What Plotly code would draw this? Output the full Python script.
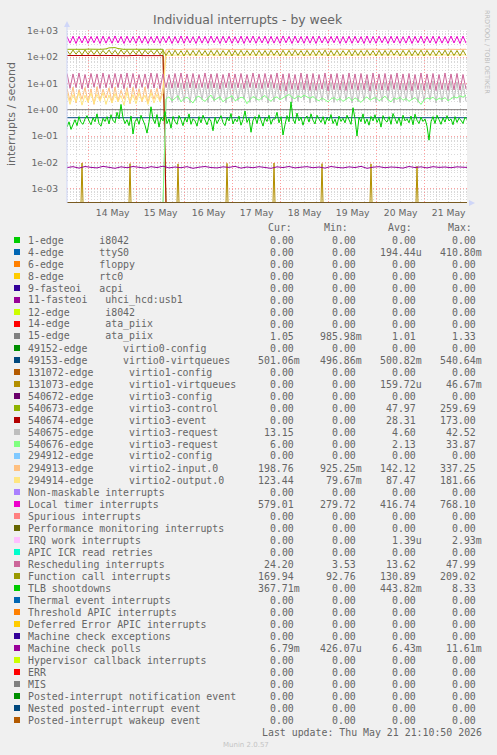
import pandas as pd
import plotly.graph_objects as go

# ---------------- text ----------------
TITLE = "Individual interrupts - by week"
Y_TITLE = "interrupts / second"
WATERMARK = "RRDTOOL / TOBI OETIKER"
FOOTER = "Munin 2.0.57"
LAST_UPDATE = "Last update: Thu May 21 21:10:50 2026"
HEADERS = ["Cur:", "Min:", "Avg:", "Max:"]

T_START = "2026-05-13 13:10"
T_END = "2026-05-21 21:10"

Y_TICK_VALS = [1e-3, 1e-2, 1e-1, 1e0, 1e1, 1e2, 1e3]
Y_TICK_TEXT = ["1e-03", "1e-02", "1e-01", "1e+00", "1e+01", "1e+02", "1e+03"]

LABELS = [
    "1-edge      i8042", "4-edge      ttyS0", "6-edge      floppy", "8-edge      rtc0",
    "9-fasteoi   acpi", "11-fasteoi   uhci_hcd:usb1", "12-edge      i8042",
    "14-edge      ata_piix", "15-edge      ata_piix",
    "49152-edge      virtio0-config", "49153-edge      virtio0-virtqueues",
    "131072-edge      virtio1-config", "131073-edge      virtio1-virtqueues",
    "540672-edge      virtio3-config", "540673-edge      virtio3-control",
    "540674-edge      virtio3-event", "540675-edge      virtio3-request",
    "540676-edge      virtio3-request", "294912-edge      virtio2-config",
    "294913-edge      virtio2-input.0", "294914-edge      virtio2-output.0",
    "Non-maskable interrupts", "Local timer interrupts", "Spurious interrupts",
    "Performance monitoring interrupts", "IRQ work interrupts", "APIC ICR read retries",
    "Rescheduling interrupts", "Function call interrupts", "TLB shootdowns",
    "Thermal event interrupts", "Threshold APIC interrupts", "Deferred Error APIC interrupts",
    "Machine check exceptions", "Machine check polls", "Hypervisor callback interrupts",
    "ERR", "MIS", "Posted-interrupt notification event", "Nested posted-interrupt event",
    "Posted-interrupt wakeup event",
]

PALETTE = ["#00CC00", "#0066B3", "#FF8000", "#FFCC00", "#330099", "#990099", "#CCFF00",
           "#FF0000", "#808080", "#008F00", "#00487D", "#B35A00", "#B38F00", "#6B006B",
           "#8FB300", "#B30000", "#BEBEBE", "#80FF80", "#80C9FF", "#FFC080", "#FFE680",
           "#AA80FF", "#EE00CC", "#FF8080", "#666600", "#FFBFFF", "#00FFCC", "#CC6699",
           "#999900"]

Z = "0.00"
CUR = [Z, Z, Z, Z, Z, Z, Z, Z, "1.05", Z, "501.06m", Z, Z, Z, Z, Z, "13.15", "6.00", Z,
       "198.76", "123.44", Z, "579.01", Z, Z, Z, Z, "24.20", "169.94", "367.71m",
       Z, Z, Z, Z, "6.79m", Z, Z, Z, Z, Z, Z]
MIN = [Z, Z, Z, Z, Z, Z, Z, Z, "985.98m", Z, "496.86m", Z, Z, Z, Z, Z, Z, Z, Z,
       "925.25m", "79.67m", Z, "279.72", Z, Z, Z, Z, "3.53", "92.76", Z,
       Z, Z, Z, Z, "426.07u", Z, Z, Z, Z, Z, Z]
AVG = [Z, "194.44u", Z, Z, Z, Z, Z, Z, "1.01", Z, "500.82m", Z, "159.72u", Z, "47.97",
       "28.31", "4.60", "2.13", Z, "142.12", "87.47", Z, "416.74", Z, Z, "1.39u", Z,
       "13.62", "130.89", "443.82m", Z, Z, Z, Z, "6.43m", Z, Z, Z, Z, Z, Z]
MAX = [Z, "410.80m", Z, Z, Z, Z, Z, Z, "1.33", Z, "540.64m", Z, "46.67m", Z, "259.69",
       "173.00", "42.52", "33.87", Z, "337.25", "181.66", Z, "768.10", Z, Z, "2.93m", Z,
       "47.99", "209.02", "8.33", Z, Z, Z, Z, "11.61m", Z, Z, Z, Z, Z, Z]

# ---------------- series (per-series sampling step, minutes) ----------------
# Local timer interrupts, 90 min step
LOC = [
    600, 340, 620, 330, 610, 345, 630, 335, 605, 350,
    615, 330, 625, 340, 600, 335, 635, 345, 610, 330,
    620, 350, 605, 335, 630, 340, 615, 330, 600, 345,
    625, 335, 610, 350, 620, 330, 605, 340, 635, 335,
    615, 345, 600, 330, 625, 340, 610, 335, 630, 350,
    605, 330, 620, 345, 615, 335, 600, 340, 625, 330,
    610, 350, 630, 335, 605, 345, 620, 330, 615, 340,
    600, 335, 635, 350, 610, 330, 625, 345, 605, 335,
    620, 340, 615, 330, 630, 345, 600, 335, 610, 350,
    625, 330, 605, 340, 620, 335, 615, 345, 600, 330,
    630, 340, 610, 335, 625, 350, 605, 330, 620, 345,
    615, 335, 600, 340, 635, 330, 610, 350, 625, 335,
    605, 345, 620, 330, 615, 340, 600, 335, 630, 345,
    610, 330, 625, 340,
]
# Function call interrupts, 90 min step
CAL = [
    180, 125, 185, 130, 178, 122, 186, 128, 182, 126,
    184, 124, 179, 130, 185, 127, 181, 123, 187, 129,
    183, 125, 180, 128, 186, 122, 182, 131, 179, 126,
    185, 124, 181,
    115, 178, 112, 182, 116, 176, 110, 181, 114, 179,
    113, 183, 117, 177, 111, 180, 115, 182, 112, 178,
    116, 184, 110, 179, 114, 181, 113, 177, 117, 183,
    111, 180, 115, 178, 112, 182, 116, 176, 110, 181,
    114, 179, 113, 183, 117, 177, 111, 180, 115, 182,
    112, 178, 116, 184, 110, 179, 114, 181, 113, 177,
    117, 183, 111, 180, 115, 178, 112, 182, 116, 176,
    110, 181, 114, 179, 113, 183, 117, 177, 111, 180,
    115, 182, 112, 178, 116, 184, 110, 179, 114, 181,
    113, 177, 117, 183, 111, 180, 115, 178, 112, 182,
    116,
]
# Rescheduling interrupts, 90 min step
RES = [
    24, 6.5, 23, 7, 25, 6.2, 22, 6.8, 24, 7.2,
    23, 6.4, 25, 6.9, 22, 6.6, 24, 7, 23, 6.3,
    25, 6.8, 24, 6.5, 22, 7.1, 23, 6.4, 25, 6.7,
    24, 6.2, 23, 7, 22, 6.6, 24, 6.9, 25, 6.3,
    23, 6.8, 24, 6.5, 22, 7, 25, 6.4, 23, 6.7,
    24, 6.1, 22, 6.9, 25, 6.5, 23, 6.8, 24, 6.3,
    22, 7, 25, 6.6, 23, 6.4, 24, 6.9, 22, 6.5,
    25, 5.7, 23, 5.2, 24, 6.0, 22, 5.6, 25, 5.8,
    23, 5.4, 24, 5.5, 22, 6.1, 25, 5.3, 23, 5.9,
    24, 5.6, 22, 5.4, 25, 6.0, 23, 5.5, 24, 5.8,
    22, 5.2, 25, 5.9, 23, 5.6, 24, 5.4, 22, 6.0,
    25, 5.7, 23, 5.5, 24, 5.3, 22, 5.8, 25, 5.6,
    23, 6.0, 24, 5.4, 22, 5.9, 25, 5.5, 23, 5.7,
    24, 5.6, 22, 6.1,
]
# virtio3-control / virtio3-event (stop on 15 May), 90 min step
IRQ540673 = [
    198, 196, 200, 197, 199, 195, 198, 201, 197, 196,
    199, 198, 200, 205, 225, 235, 230, 212, 200, 197,
    199, 198, 196, 200, 198, 197, 199, 201, 198, 196,
    199, 197, 198,
] + [0.0] * 101
IRQ540674 = [
    115, 114, 116, 113, 115, 117, 114, 115, 116, 113,
    115, 114, 116, 115, 113, 117, 115, 114, 116, 115,
    113, 114, 116, 115, 117, 114, 115, 113, 116, 114,
    115, 116, 114,
] + [0.0] * 101
# virtio3-request (start on 15 May), 90 min step
IRQ540675 = [0.0] * 33 + [
    2.1, 11, 1.9, 12, 2.3, 10.5, 2.0, 11.5, 1.8, 12.5,
    2.2, 10, 2.4, 11, 1.9, 12, 2.1, 10.5, 2.3, 11.5,
    1.8, 12, 2.0, 11, 2.2, 10, 2.5, 12.5, 1.9, 11,
    2.1, 10.5, 2.3, 12, 1.8, 11.5, 2.0, 10, 2.4, 11,
    2.2, 12, 1.9, 10.5, 2.1, 11.5, 2.3, 12.5, 1.8, 11,
    2.0, 10, 2.2, 12, 2.4, 11, 1.9, 10.5, 2.1, 11.5,
    2.3, 12, 1.8, 11, 2.0, 10.5, 2.2, 12.5, 2.4, 11,
    1.9, 10, 2.1, 11.5, 2.3, 12, 1.8, 11, 2.0, 10.5,
    2.2, 12, 2.4, 11.5, 1.9, 10, 2.1, 11, 2.3, 12.5,
    1.8, 11, 2.0, 10.5, 2.2, 12, 2.4, 11.5, 1.9, 10,
    2.1,
]
IRQ540676 = [0.0] * 33 + [
    2.6, 3.1, 2.2, 2.8, 3.4, 2.0, 2.7, 3.0, 2.4, 1.8,
    2.9, 3.3, 2.5, 2.1, 2.8, 3.6, 2.3, 2.7, 3.1, 2.0,
    2.6, 2.9, 3.4, 2.2, 2.5, 3.0, 2.8, 1.7, 2.4, 3.2,
    2.7, 2.3, 2.9, 3.5, 2.6, 2.1, 2.8, 3.1, 2.4, 2.9,
    3.3, 3.8, 3.0, 2.6, 3.4, 2.9, 3.6, 3.1, 2.7, 3.2,
    2.5, 2.2, 2.8, 2.4, 2.0, 2.6, 2.9, 2.3, 2.7, 2.1,
    2.5, 3.0, 2.2, 2.8, 2.4, 1.9, 2.6, 3.1, 2.3, 2.7,
    2.9, 2.2, 2.6, 3.3, 2.4, 2.0, 2.8, 2.5, 3.0, 2.3,
    2.7, 2.1, 2.5, 2.9, 2.2, 1.6, 2.4, 2.8, 2.6, 3.0,
    2.3, 2.7, 2.5, 2.9, 2.2, 2.6, 3.1, 2.8, 3.4, 3.0,
    3.6,
]
# virtio2-input.0 / virtio2-output.0, 90 min step
IRQ294913 = [
    6.5, 2.2, 7.2, 1.8, 5.8, 2.5, 7.0, 2.0, 6.2, 1.6,
    7.5, 2.3, 6.0, 2.8, 6.8, 1.9, 7.3, 2.1, 5.5, 2.6,
    6.9, 1.7, 7.1, 2.4, 6.3, 2.0, 7.4, 1.8, 5.9, 2.5,
    6.6, 2.2, 7.0,
    196, 198, 195, 200, 197, 194, 199, 201, 196, 198,
    195, 197, 200, 196, 193, 198, 202, 197, 195, 199,
    196, 194, 198, 200, 197, 195, 199, 196, 201, 198,
    194, 197, 199, 195, 198, 200, 196, 193, 197, 199,
    201, 196, 198, 195, 197, 200, 194, 198, 196, 199,
    197, 195, 201, 198, 196, 194, 199, 197, 200, 195,
    198, 196, 193, 197, 199, 201, 196, 198, 195, 200,
    197, 194, 198, 196, 199, 197, 201, 195, 198, 196,
    194, 199, 197, 200, 196, 198, 195, 197, 199, 196,
    201, 198, 194, 197, 200, 196, 198, 195, 199, 197,
    199,
]
IRQ294914 = [
    4.2, 1.6, 3.8, 2.0, 4.5, 1.5, 3.6, 1.9, 4.3, 1.7,
    3.9, 2.1, 4.4, 1.6, 3.7, 1.8, 4.1, 2.0, 3.5, 1.5,
    4.6, 1.9, 3.8, 1.7, 4.2, 2.2, 3.6, 1.6, 4.4, 1.8,
    3.9, 2.0, 4.3,
    120, 118, 122, 119, 121, 117, 123, 120, 118, 121,
    119, 122, 120, 117, 121, 123, 118, 120, 122, 119,
    121, 118, 120, 123, 117, 119, 122, 120, 118, 121,
    123, 119, 117, 121, 120, 122, 118, 119, 121, 120,
    117, 122, 120, 118, 123, 119, 121, 117, 120, 122,
    118, 121, 119, 123, 120, 117, 122, 118, 121, 119,
    120, 122, 117, 121, 119, 123, 118, 120, 122, 121,
    119, 117, 120, 122, 118, 121, 123, 119, 120, 118,
    122, 120, 117, 121, 119, 122, 118, 123, 120, 121,
    119, 118, 122, 120, 117, 121, 123, 119, 120, 122,
    123,
]
# TLB shootdowns, 60 min step
TLB = [
    0.22, 0.35, 0.18, 0.30, 0.42, 0.25, 0.55, 0.33, 0.28, 0.45,
    0.60, 0.38, 0.27, 0.50, 0.35, 0.70, 0.30, 0.24, 0.48, 0.36,
    0.55, 0.29, 0.65, 0.40, 0.32, 0.80, 0.45, 1.60, 0.50, 0.30,
    0.42, 0.25, 0.58, 0.12, 0.35, 0.48, 0.28, 0.62, 0.40, 0.26,
    0.13, 0.34, 1.30, 0.45, 0.30, 0.66, 0.22, 0.50, 0.38, 0.85,
    0.30, 0.45, 0.20, 0.56, 0.36, 0.28, 0.60, 0.42, 0.25, 0.50,
    0.34, 0.70, 0.28, 0.46, 0.38, 0.24, 0.55, 0.32, 0.62, 0.40,
    0.27, 0.48, 0.36, 0.16, 0.52, 0.30, 0.44, 0.60, 0.33, 0.25,
    0.50, 0.38, 0.72, 0.29, 0.45, 0.35, 0.58, 0.26, 0.42, 0.90,
    0.33, 0.48, 0.14, 0.40, 0.55, 0.30, 0.65, 0.37, 0.24, 0.50,
    0.36, 0.62, 0.28, 0.45, 0.44, 0.80, 0.32, 0.55, 0.11, 0.27,
    0.60, 0.35, 2.00, 0.45, 0.30, 0.75, 0.38, 0.52, 0.26, 0.48,
    0.58, 0.34, 0.70, 0.40, 0.29, 0.62, 0.45, 0.33, 0.55, 0.28,
    0.50, 0.38, 0.66, 0.30, 0.44, 0.25, 0.58, 0.36, 0.48, 0.32,
    0.62, 0.40, 0.28, 1.20, 0.46, 0.10, 0.52, 0.35, 0.70, 0.30,
    0.45, 0.26, 0.56, 0.38, 0.65, 0.33, 0.48, 0.22, 0.60, 0.40,
    0.34, 0.55, 0.28, 0.72, 0.42, 0.30, 0.50, 0.25, 0.62, 0.38,
    0.46, 0.32, 0.58, 0.27, 0.68, 0.40, 0.30, 0.52, 0.36, 0.45,
    0.24, 0.07, 0.35, 0.55, 0.30, 0.62, 0.42, 0.28, 0.50, 0.34,
    0.60, 0.38, 0.45, 0.27, 0.55, 0.33, 0.48, 0.40, 0.30, 0.52,
    0.42,
]
# Machine check polls, 180 min step
MCP = [
    6.4e-3, 6.9e-3, 6.1e-3, 7.0e-3, 6.5e-3, 6.2e-3, 7.1e-3, 6.6e-3, 6.0e-3, 6.8e-3,
    6.3e-3, 7.0e-3, 6.5e-3, 6.1e-3, 6.9e-3, 6.4e-3, 7.2e-3, 6.2e-3, 6.7e-3, 6.3e-3,
    6.9e-3, 6.0e-3, 6.6e-3, 7.0e-3, 6.4e-3, 6.2e-3, 6.8e-3, 6.5e-3, 7.1e-3, 6.1e-3,
    6.7e-3, 6.3e-3, 6.9e-3, 6.5e-3, 6.0e-3, 6.8e-3, 6.4e-3, 7.0e-3, 6.2e-3, 6.6e-3,
    6.9e-3, 6.3e-3, 6.7e-3, 6.1e-3, 7.0e-3, 6.5e-3, 6.2e-3, 6.8e-3, 6.4e-3, 7.1e-3,
    6.0e-3, 6.6e-3, 6.9e-3, 6.3e-3, 6.7e-3, 6.5e-3, 6.1e-3, 7.0e-3, 6.4e-3, 6.8e-3,
    6.2e-3, 6.9e-3, 6.5e-3, 6.7e-3, 6.3e-3, 6.8e-3, 6.6e-3, 6.4e-3,
]
# flat lines, 1500 min step
IRQ15 = [1.01, 1.01, 1.02, 1.01, 1.00, 1.01, 1.02, 1.01, 1.01]
IRQ49153 = [0.50, 0.50, 0.50, 0.50, 0.50, 0.50, 0.50, 0.50, 0.50]
# virtio1-virtqueues: short daily bursts (30 min resolution)
SPIKE_TIMES = ["2026-05-13 20:40", "2026-05-14 20:40", "2026-05-15 20:40", "2026-05-16 21:10",
               "2026-05-17 20:40", "2026-05-18 20:40", "2026-05-19 21:10", "2026-05-20 20:10"]
SPIKE_VALUES = [0.0095, 0.0090, 0.0088, 0.0092, 0.0095, 0.0090, 0.0088, 0.0072]

# ---------------- layout constants ----------------
W, H = 497, 755
PL, PR, PT, PB = 67, 467, 30, 203
Y_LOG_RANGE = [-3.54, 3.03]
FLOOR = 10 ** -3.535          # zero values are drawn at the bottom edge (log scale)
FONT_COLOR = "#666666"
AXIS_COLOR = "#CFD6F8"
MONO = "DejaVu Sans Mono"
SANS = "DejaVu Sans"
MAJOR_GRID = "rgba(255,120,120,0.7)"
MINOR_GRID = "rgba(185,185,185,0.55)"


def px_x(px):
    return (px - PL) / (PR - PL)


def px_y(py):
    return (PB - py) / (PB - PT)


def nb(s):
    return s.replace(" ", "\u00a0")


t0 = pd.Timestamp(T_START)


def times(n, step_min):
    return [(t0 + pd.Timedelta(minutes=step_min * i)).strftime("%Y-%m-%d %H:%M") for i in range(n)]


# spike series on a 30-minute grid
n30 = 401
spike_vals = [0.0] * n30
for ts, v in zip(SPIKE_TIMES, SPIKE_VALUES):
    k = int(round((pd.Timestamp(ts) - t0) / pd.Timedelta(minutes=30)))
    spike_vals[k] = v

SERIES = {
    8: (IRQ15, 1500), 10: (IRQ49153, 1500), 12: (spike_vals, 30),
    14: (IRQ540673, 90), 15: (IRQ540674, 90), 16: (IRQ540675, 90), 17: (IRQ540676, 90),
    19: (IRQ294913, 90), 20: (IRQ294914, 90), 22: (LOC, 90), 27: (RES, 90),
    28: (CAL, 90), 29: (TLB, 60), 34: (MCP, 180),
}
ZERO = ([0.0, 0.0], 12000)

fig = go.Figure()
for i, label in enumerate(LABELS):
    vals, step = SERIES.get(i, ZERO)
    y = [v if v > 0 else FLOOR for v in vals]
    fig.add_trace(go.Scatter(
        x=times(len(vals), step), y=y, mode="lines",
        line=dict(color=PALETTE[i % len(PALETTE)], width=1),
        name=label, showlegend=False, hoverinfo="skip",
    ))

ann = []
shapes = []


def text(px, py, s, size, family=SANS, color=FONT_COLOR, xanchor="left", angle=0):
    ann.append(dict(x=px_x(px), y=px_y(py), xref="paper", yref="paper", text=s,
                    showarrow=False, xanchor=xanchor, yanchor="middle", borderpad=0,
                    textangle=angle, font=dict(family=family, size=size, color=color)))


text(248.3, 19.5, TITLE, 12.4, xanchor="center")
text(11, 114, Y_TITLE, 11, xanchor="center", angle=-90)
text(487, 52, WATERMARK, 6.5, color="#BDBDBD", xanchor="center", angle=90)

# legend table
HEADER_X = [266.7, 323.3, 386.7, 446.7]
COL_RIGHT = [301, 362.7, 422.7, 482.7]
for h, hx in zip(HEADERS, HEADER_X):
    text(hx, 227, h, 9.9, family=MONO)
for i, label in enumerate(LABELS):
    ry = 240 + 12 * i
    shapes.append(dict(type="rect", xref="paper", yref="paper",
                       x0=px_x(14), x1=px_x(20), y0=px_y(ry + 3), y1=px_y(ry - 3),
                       fillcolor=PALETTE[i % len(PALETTE)], line=dict(width=0)))
    text(26.7, ry, nb(label), 9.9, family=MONO)
    for col, vals in enumerate([CUR, MIN, AVG, MAX]):
        v = vals[i]
        if v[-1].isdigit():
            v = v + "\u00a0"
        text(COL_RIGHT[col], ry, v, 9.9, family=MONO, xanchor="right")

text(482.7, 732, nb(LAST_UPDATE), 9.9, family=MONO, xanchor="right")
text(245.5, 745, FOOTER, 7, color="#C4C4C4", xanchor="center")

# axis lines with arrows
shapes.append(dict(type="line", xref="paper", yref="paper", x0=0, x1=0,
                   y0=0, y1=px_y(24), line=dict(color=AXIS_COLOR, width=1)))
shapes.append(dict(type="path", xref="paper", yref="paper",
                   path=f"M {px_x(64)} {px_y(27)} L {px_x(70)} {px_y(27)} L {px_x(67)} {px_y(21)} Z",
                   fillcolor=AXIS_COLOR, line=dict(width=0)))
shapes.append(dict(type="path", xref="paper", yref="paper",
                   path=f"M {px_x(469)} {px_y(200)} L {px_x(469)} {px_y(206)} L {px_x(475)} {px_y(203)} Z",
                   fillcolor=AXIS_COLOR, line=dict(width=0)))

minor_y = [k * 10 ** e for e in range(-4, 3) for k in range(2, 10)]

fig.update_layout(
    width=W, height=H, autosize=False,
    margin=dict(l=PL, r=W - PR, t=PT, b=H - PB, pad=0),
    paper_bgcolor="#F0F0F0", plot_bgcolor="#FFFFFF",
    showlegend=False, annotations=ann, shapes=shapes,
    xaxis=dict(
        type="date", range=[T_START, T_END],
        tick0="2026-05-14", dtick=86400000, ticklabelmode="period", tickformat="%d %b",
        showgrid=True, gridcolor=MAJOR_GRID, griddash="1px,2px", gridwidth=1,
        minor=dict(dtick=6 * 3600000, showgrid=True, gridcolor=MINOR_GRID,
                   griddash="1px,2px", gridwidth=1),
        ticks="", showline=False, zeroline=False, ticklabelstandoff=3,
        tickfont=dict(family=SANS, size=9.2, color=FONT_COLOR),
    ),
    yaxis=dict(
        type="log", range=Y_LOG_RANGE, tickmode="array",
        tickvals=Y_TICK_VALS, ticktext=Y_TICK_TEXT,
        showgrid=True, gridcolor=MAJOR_GRID, griddash="1px,2px", gridwidth=1,
        minor=dict(tickmode="array", tickvals=minor_y, showgrid=True,
                   gridcolor=MINOR_GRID, griddash="1px,2px", gridwidth=1),
        ticks="", showline=False, zeroline=False, ticklabelstandoff=8,
        tickfont=dict(family=SANS, size=9.2, color=FONT_COLOR),
    ),
)

fig.write_html(
    "out.html",
    config={"displayModeBar": False, "staticPlot": True},
    post_script="document.body.style.margin='0px';document.body.style.overflow='hidden';",
)
